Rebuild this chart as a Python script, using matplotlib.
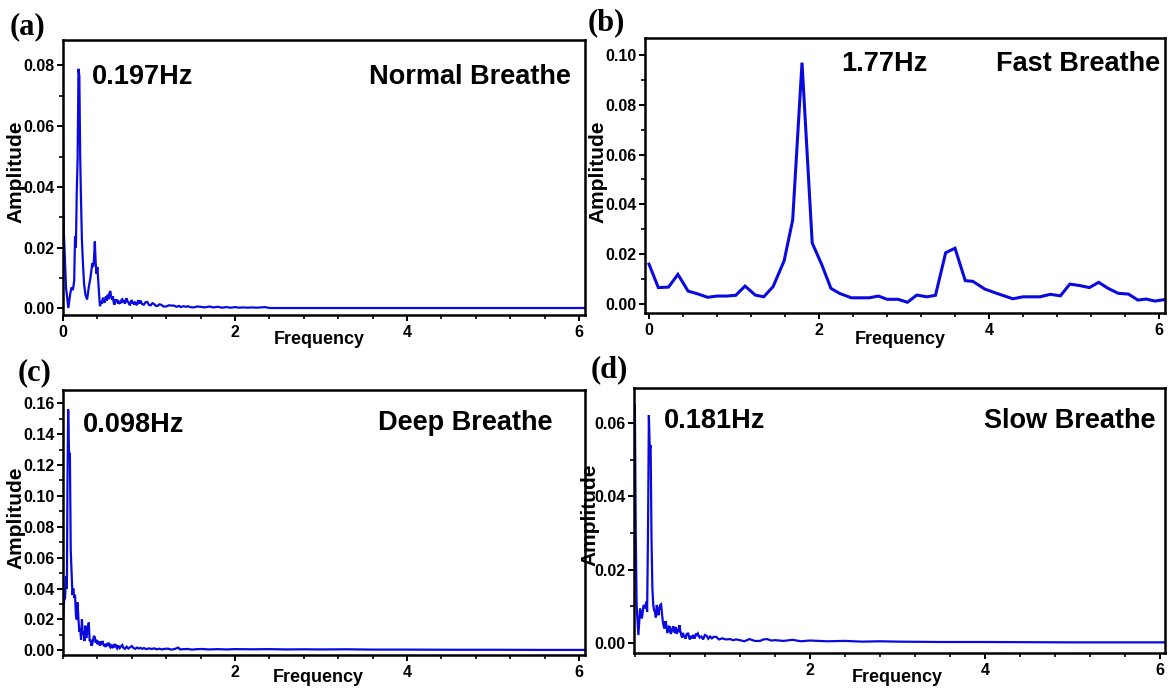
import matplotlib
matplotlib.use("Agg")
import matplotlib.pyplot as plt
from matplotlib.ticker import MultipleLocator, FixedLocator, FormatStrFormatter

# ---- data (frequency in Hz, FFT amplitude) ----
freq_a = [0.000, 0.010, 0.035, 0.062, 0.085, 0.100, 0.115, 0.130, 0.140, 0.150,
          0.160, 0.170, 0.180, 0.190, 0.200, 0.210, 0.220, 0.230, 0.245, 0.260,
          0.280, 0.300, 0.320, 0.340, 0.350, 0.360, 0.370, 0.380, 0.390, 0.400,
          0.410, 0.420, 0.430, 0.440, 0.450, 0.460, 0.470, 0.480, 0.490, 0.500,
          0.510, 0.520, 0.530, 0.540, 0.550, 0.560, 0.570, 0.580, 0.590, 0.600,
          0.610, 0.620, 0.630, 0.640, 0.650, 0.660, 0.670, 0.680, 0.690, 0.700,
          0.710, 0.720, 0.730, 0.740, 0.750, 0.760, 0.770, 0.780, 0.790, 0.800,
          0.810, 0.820, 0.830, 0.840, 0.850, 0.860, 0.870, 0.880, 0.890, 0.900,
          0.920, 0.940, 0.960, 0.980, 1.000, 1.020, 1.040, 1.060, 1.080, 1.100,
          1.120, 1.140, 1.170, 1.200, 1.230, 1.260, 1.290, 1.320, 1.350, 1.370,
          1.400, 1.430, 1.450, 1.480, 1.520, 1.560, 1.600, 1.650, 1.700, 1.750,
          1.800, 1.850, 1.900, 1.950, 2.000, 2.050, 2.100, 2.150, 2.200, 2.250,
          2.300, 2.350, 2.400, 6.070]
amp_a = [0.0600, 0.0250, 0.0069, 0.0001, 0.0050, 0.0069, 0.0060, 0.0091, 0.0237, 0.0200,
         0.0384, 0.0496, 0.0789, 0.0766, 0.0496, 0.0350, 0.0226, 0.0159, 0.0080, 0.0046,
         0.0029, 0.0070, 0.0102, 0.0148, 0.0136, 0.0160, 0.0220, 0.0150, 0.0114, 0.0136,
         0.0090, 0.0046, 0.0007, 0.0022, 0.0015, 0.0030, 0.0035, 0.0018, 0.0028, 0.0040,
         0.0025, 0.0045, 0.0030, 0.0050, 0.0057, 0.0038, 0.0029, 0.0040, 0.0018, 0.0012,
         0.0030, 0.0022, 0.0029, 0.0015, 0.0024, 0.0017, 0.0018, 0.0028, 0.0030, 0.0019,
         0.0026, 0.0015, 0.0028, 0.0033, 0.0022, 0.0020, 0.0013, 0.0012, 0.0024, 0.0025,
         0.0016, 0.0021, 0.0012, 0.0019, 0.0016, 0.0010, 0.0024, 0.0024, 0.0015, 0.0026,
         0.0014, 0.0012, 0.0020, 0.0021, 0.0011, 0.0010, 0.0017, 0.0014, 0.0008, 0.0008,
         0.0013, 0.0012, 0.0006, 0.0006, 0.0010, 0.0009, 0.0009, 0.0005, 0.0008, 0.0004,
         0.0007, 0.0005, 0.0007, 0.0004, 0.0003, 0.0006, 0.0005, 0.0003, 0.0006, 0.0003,
         0.0005, 0.0002, 0.0004, 0.0002, 0.0004, 0.0002, 0.0003, 0.0002, 0.0003, 0.0002,
         0.0003, 0.0004, 0.0001, 0.0001]

freq_b = [0.00, 0.11, 0.23, 0.34, 0.46, 0.58, 0.69, 0.80, 0.91, 1.02,
          1.13, 1.25, 1.35, 1.46, 1.59, 1.69, 1.80, 1.92, 2.03, 2.14,
          2.24, 2.38, 2.59, 2.70, 2.80, 2.93, 3.04, 3.15, 3.27, 3.37,
          3.49, 3.60, 3.72, 3.81, 3.95, 4.09, 4.28, 4.40, 4.60, 4.72,
          4.84, 4.95, 5.07, 5.18, 5.29, 5.40, 5.52, 5.64, 5.75, 5.85,
          5.95, 6.09]
amp_b = [0.0160, 0.0066, 0.0068, 0.0119, 0.0052, 0.0040, 0.0027, 0.0032, 0.0032, 0.0035,
         0.0072, 0.0036, 0.0029, 0.0070, 0.0174, 0.0337, 0.0969, 0.0245, 0.0160, 0.0063,
         0.0043, 0.0025, 0.0025, 0.0032, 0.0019, 0.0019, 0.0007, 0.0036, 0.0029, 0.0035,
         0.0206, 0.0224, 0.0094, 0.0091, 0.0060, 0.0043, 0.0021, 0.0029, 0.0029, 0.0039,
         0.0033, 0.0080, 0.0074, 0.0066, 0.0087, 0.0063, 0.0043, 0.0040, 0.0016, 0.0020,
         0.0012, 0.0019]

freq_c = [0.000, 0.012, 0.024, 0.035, 0.045, 0.052, 0.060, 0.070, 0.080, 0.090,
          0.100, 0.110, 0.120, 0.130, 0.140, 0.150, 0.160, 0.170, 0.180, 0.190,
          0.200, 0.210, 0.220, 0.230, 0.240, 0.250, 0.260, 0.270, 0.280, 0.290,
          0.300, 0.310, 0.320, 0.330, 0.340, 0.350, 0.360, 0.370, 0.380, 0.390,
          0.400, 0.410, 0.420, 0.430, 0.440, 0.450, 0.460, 0.470, 0.480, 0.490,
          0.500, 0.510, 0.520, 0.530, 0.540, 0.550, 0.560, 0.570, 0.580, 0.590,
          0.600, 0.610, 0.620, 0.630, 0.640, 0.650, 0.660, 0.670, 0.680, 0.690,
          0.700, 0.720, 0.740, 0.760, 0.780, 0.800, 0.820, 0.840, 0.860, 0.880,
          0.900, 0.920, 0.940, 0.970, 1.000, 1.030, 1.060, 1.090, 1.120, 1.150,
          1.180, 1.220, 1.260, 1.300, 1.340, 1.360, 1.400, 1.450, 1.500, 1.560,
          1.610, 1.700, 1.800, 1.900, 2.000, 2.200, 2.400, 2.600, 2.800, 3.000,
          3.300, 3.600, 4.000, 4.500, 5.000, 5.500, 6.070]
amp_c = [0.0170, 0.0320, 0.0340, 0.0480, 0.0400, 0.1080, 0.1560, 0.1270, 0.1280, 0.0650,
         0.0500, 0.0360, 0.0400, 0.0340, 0.0360, 0.0230, 0.0200, 0.0310, 0.0200, 0.0120,
         0.0140, 0.0070, 0.0200, 0.0100, 0.0120, 0.0060, 0.0160, 0.0080, 0.0110, 0.0150,
         0.0180, 0.0060, 0.0070, 0.0030, 0.0040, 0.0070, 0.0094, 0.0085, 0.0050, 0.0068,
         0.0040, 0.0055, 0.0050, 0.0030, 0.0058, 0.0040, 0.0061, 0.0035, 0.0030, 0.0040,
         0.0022, 0.0045, 0.0030, 0.0050, 0.0028, 0.0020, 0.0033, 0.0025, 0.0015, 0.0040,
         0.0030, 0.0040, 0.0020, 0.0012, 0.0028, 0.0026, 0.0015, 0.0022, 0.0030, 0.0035,
         0.0018, 0.0010, 0.0024, 0.0012, 0.0020, 0.0028, 0.0015, 0.0010, 0.0018, 0.0012,
         0.0016, 0.0010, 0.0015, 0.0008, 0.0013, 0.0009, 0.0013, 0.0007, 0.0011, 0.0006,
         0.0010, 0.0011, 0.0005, 0.0009, 0.0018, 0.0006, 0.0008, 0.0009, 0.0005, 0.0008,
         0.0009, 0.0006, 0.0008, 0.0006, 0.0008, 0.0007, 0.0008, 0.0006, 0.0007, 0.0006,
         0.0007, 0.0005, 0.0005, 0.0004, 0.0004, 0.0003, 0.0003]

freq_d = [0.000, 0.010, 0.020, 0.040, 0.060, 0.080, 0.100, 0.120, 0.130, 0.140,
          0.150, 0.160, 0.170, 0.180, 0.190, 0.200, 0.210, 0.220, 0.230, 0.240,
          0.250, 0.260, 0.270, 0.280, 0.290, 0.300, 0.310, 0.320, 0.330, 0.340,
          0.350, 0.360, 0.370, 0.380, 0.390, 0.400, 0.410, 0.420, 0.430, 0.440,
          0.450, 0.460, 0.470, 0.480, 0.490, 0.500, 0.510, 0.520, 0.530, 0.540,
          0.550, 0.560, 0.570, 0.580, 0.590, 0.600, 0.610, 0.620, 0.630, 0.640,
          0.650, 0.660, 0.670, 0.680, 0.690, 0.700, 0.710, 0.720, 0.740, 0.760,
          0.780, 0.800, 0.820, 0.840, 0.860, 0.880, 0.900, 0.930, 0.960, 1.000,
          1.040, 1.090, 1.120, 1.160, 1.200, 1.250, 1.310, 1.370, 1.430, 1.470,
          1.510, 1.560, 1.600, 1.700, 1.800, 1.900, 2.000, 2.200, 2.400, 2.600,
          2.800, 3.000, 3.500, 4.000, 5.000, 6.070]
amp_d = [0.0650, 0.0300, 0.0104, 0.0022, 0.0095, 0.0067, 0.0104, 0.0095, 0.0113, 0.0085,
         0.0300, 0.0622, 0.0530, 0.0540, 0.0286, 0.0150, 0.0104, 0.0090, 0.0085, 0.0070,
         0.0104, 0.0090, 0.0076, 0.0095, 0.0104, 0.0106, 0.0080, 0.0058, 0.0045, 0.0040,
         0.0060, 0.0049, 0.0030, 0.0031, 0.0045, 0.0044, 0.0025, 0.0031, 0.0040, 0.0046,
         0.0031, 0.0028, 0.0044, 0.0025, 0.0038, 0.0030, 0.0049, 0.0032, 0.0022, 0.0015,
         0.0028, 0.0020, 0.0017, 0.0012, 0.0024, 0.0026, 0.0026, 0.0015, 0.0010, 0.0020,
         0.0013, 0.0018, 0.0022, 0.0012, 0.0020, 0.0026, 0.0022, 0.0026, 0.0015, 0.0018,
         0.0010, 0.0022, 0.0020, 0.0012, 0.0018, 0.0013, 0.0017, 0.0017, 0.0010, 0.0013,
         0.0010, 0.0011, 0.0008, 0.0010, 0.0008, 0.0005, 0.0011, 0.0006, 0.0006, 0.0010,
         0.0011, 0.0007, 0.0008, 0.0006, 0.0009, 0.0005, 0.0007, 0.0005, 0.0006, 0.0004,
         0.0005, 0.0004, 0.0003, 0.0003, 0.0002, 0.0002]

tags = ["(a)", "(b)", "(c)", "(d)"]
peaks = ["0.197Hz", "1.77Hz", "0.098Hz", "0.181Hz"]
names = ["Normal Breathe", "Fast Breathe", "Deep Breathe", "Slow Breathe"]

W, H = 1169, 690
BLUE = "#0a0ae0"
TICKFONT = ["Liberation Sans Narrow", "Liberation Sans"]

fig = plt.figure(figsize=(W / 100, H / 100), dpi=100)
fig.patch.set_facecolor("white")


def fx(px):
    return px / W


def fy(py):
    return 1 - py / H


# pixel layout of each panel: box (l, t, r, b), limits, text anchors
layout = [
    dict(box=(63, 40, 585, 315), xlim=(0, 6.07), ylim=(-0.0022, 0.0884), xmaj=[0, 2, 4, 6],
         ymax=0.08, lw=1.6, tag=(10, 27), peak=(92, 77), name=(571, 77), ylab=(16, 172), xlab=(319, 339)),
    dict(box=(645, 38, 1165, 313), xlim=(-0.047, 6.07), ylim=(-0.0036, 0.1068), xmaj=[0, 2, 4, 6],
         ymax=0.10, lw=2.2, tag=(588, 23), peak=(841, 64), name=(1160, 64), ylab=(598, 172), xlab=(900, 339)),
    dict(box=(63, 390, 585, 655), xlim=(0, 6.07), ylim=(-0.003, 0.1686), xmaj=[2, 4, 6],
         ymax=0.16, lw=1.6, tag=(18, 373), peak=(83, 425), name=(553, 423), ylab=(16, 518), xlab=(318, 678)),
    dict(box=(634, 388, 1165, 653), xlim=(-0.01, 6.06), ylim=(-0.0027, 0.0696), xmaj=[2, 4, 6],
         ymax=0.06, lw=1.6, tag=(591, 370), peak=(664, 421), name=(1155, 421), ylab=(590, 515), xlab=(897, 677)),
]
series = [(freq_a, amp_a), (freq_b, amp_b), (freq_c, amp_c), (freq_d, amp_d)]

for i, (lay, (fr, am)) in enumerate(zip(layout, series)):
    l, t, r, b = lay["box"]
    ax = fig.add_axes([fx(l), fy(b), fx(r - l), (b - t) / H])
    ax.plot(fr, am, color=BLUE, lw=lay["lw"], solid_joinstyle="miter")
    ax.set_xlim(*lay["xlim"])
    ax.set_ylim(*lay["ylim"])

    ax.xaxis.set_major_locator(FixedLocator(lay["xmaj"]))
    ax.xaxis.set_minor_locator(MultipleLocator(0.4))
    ax.yaxis.set_major_locator(FixedLocator([k * 0.02 for k in range(int(round(lay["ymax"] / 0.02)) + 1)]))
    ax.yaxis.set_minor_locator(MultipleLocator(0.01))
    ax.yaxis.set_major_formatter(FormatStrFormatter("%.2f"))
    ax.xaxis.set_major_formatter(FormatStrFormatter("%d"))

    for s in ax.spines.values():
        s.set_linewidth(1.8)
    ax.tick_params(which="major", direction="out", length=4.5, width=1.4, pad=1.5)
    ax.tick_params(which="minor", direction="out", length=3, width=1.2)
    ax.tick_params(axis="x", which="major", pad=3)
    for lab in ax.get_xticklabels() + ax.get_yticklabels():
        lab.set_fontfamily(TICKFONT)
        lab.set_fontweight("bold")
        lab.set_fontsize(11.5)

    ax.set_xlabel("Frequency", fontsize=13, fontweight="bold", family="Liberation Sans", va="center")
    ax.xaxis.set_label_coords((lay["xlab"][0] - l) / (r - l), (b - lay["xlab"][1]) / (b - t))
    ax.set_ylabel("Amplitude", fontsize=15, fontweight="bold", family="Liberation Sans", va="center")
    ax.yaxis.set_label_coords((lay["ylab"][0] - l) / (r - l), (b - lay["ylab"][1]) / (b - t))

    fig.text(fx(lay["tag"][0]), fy(lay["tag"][1]), tags[i], family="Liberation Serif",
             fontweight="bold", fontsize=22, ha="left", va="center")
    fig.text(fx(lay["peak"][0]), fy(lay["peak"][1]), peaks[i], family="Liberation Sans",
             fontweight="bold", fontsize=19.5, ha="left", va="center")
    fig.text(fx(lay["name"][0]), fy(lay["name"][1]), names[i], family="Liberation Sans",
             fontweight="bold", fontsize=19.5, ha="right", va="center")

fig.savefig("out.png", dpi=100, facecolor="white")
